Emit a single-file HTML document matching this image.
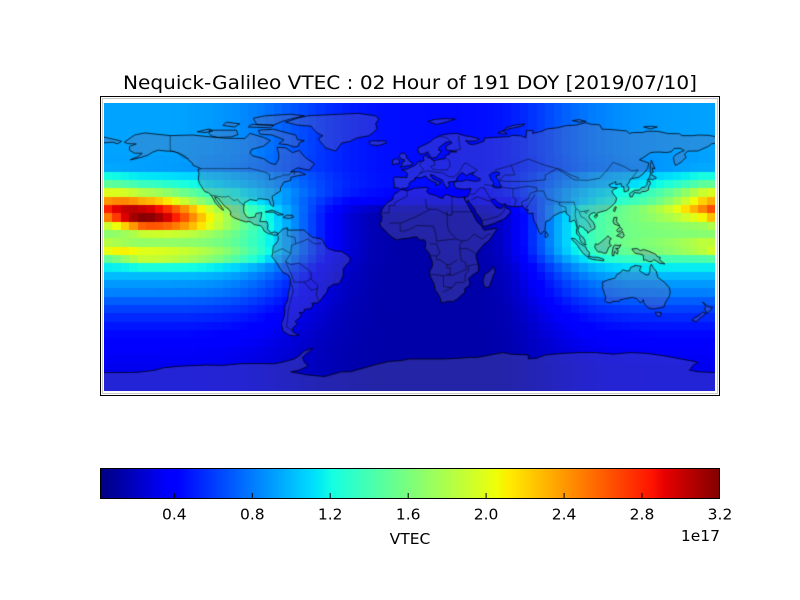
<!DOCTYPE html>
<html><head><meta charset="utf-8"><style>
html,body{margin:0;padding:0;background:#fff}
#w{position:relative;width:800px;height:600px;overflow:hidden;background:#fff}
#cb{position:absolute;left:100px;top:468px;width:620px;height:31px;
background:linear-gradient(to right,rgb(0,0,128) 0%,rgb(0,0,255) 11%,rgb(0,0,255) 12.5%,rgb(0,219,255) 34%,rgb(0,230,247) 35%,rgb(21,255,226) 37.5%,rgb(239,255,8) 64%,rgb(247,245,0) 65%,rgb(255,236,0) 66%,rgb(255,19,0) 89%,rgb(232,0,0) 91%,rgb(128,0,0) 100%)}
svg{position:absolute;left:0;top:0}
canvas{position:absolute;left:104px;top:103px}
text{font-family:"DejaVu Sans","Liberation Sans",sans-serif;fill:#000}
</style></head><body><div id="w">
<div id="cb"></div>
<svg width="800" height="600" viewBox="0 0 800 600">
<rect x="100.5" y="96.5" width="619" height="299" fill="none" stroke="#000" stroke-width="1"/>
<rect x="102.5" y="98.5" width="615" height="295" fill="none" stroke="#c8c8c8" stroke-width="1"/>
<rect x="100.5" y="468.5" width="619" height="30" fill="none" stroke="#000" stroke-width="1"/>
<g stroke="#000" stroke-width="1">
<line x1="174.3" y1="493" x2="174.3" y2="499"/>
<line x1="252.3" y1="493" x2="252.3" y2="499"/>
<line x1="330.2" y1="493" x2="330.2" y2="499"/>
<line x1="408.2" y1="493" x2="408.2" y2="499"/>
<line x1="486.1" y1="493" x2="486.1" y2="499"/>
<line x1="564.1" y1="493" x2="564.1" y2="499"/>
<line x1="642" y1="493" x2="642" y2="499"/>
</g>
<text x="410" y="89" font-size="19" text-anchor="middle" textLength="574" lengthAdjust="spacingAndGlyphs">Nequick-Galileo VTEC : 02 Hour of 191 DOY [2019/07/10]</text>
<g font-size="15.5" text-anchor="middle">
<text x="174.3" y="519.5">0.4</text>
<text x="252.3" y="519.5">0.8</text>
<text x="330.2" y="519.5">1.2</text>
<text x="408.2" y="519.5">1.6</text>
<text x="486.1" y="519.5">2.0</text>
<text x="564.1" y="519.5">2.4</text>
<text x="642" y="519.5">2.8</text>
<text x="720" y="519.5">3.2</text>
<text x="410" y="544">VTEC</text>
</g>
<text x="720" y="541" font-size="15.5" text-anchor="end">1e17</text>
</svg>
<canvas id="m" width="611" height="288"></canvas>
</div>
<script>
(function(){
var c=document.getElementById('m').getContext('2d');
function jet(t){t=Math.max(0,Math.min(1,t));var r,g,b;
r=t<0.35?0:t<0.66?(t-0.35)/0.31:t<0.89?1:1-(t-0.89)/0.11*0.5;
g=t<0.125?0:t<0.375?(t-0.125)/0.25:t<0.64?1:t<0.91?1-(t-0.64)/0.27:0;
b=t<0.11?0.5+t/0.11*0.5:t<0.34?1:t<0.65?1-(t-0.34)/0.31:0;
return 'rgb('+Math.round(r*255)+','+Math.round(g*255)+','+Math.round(b*255)+')';}
var nf=[],Lp=[0.23,0.23,0.23,0.23,0.23,0.23,0.23,0.22,0.21,0.32,0.36,0.48,0.61,0.89,0.96,0.97,0.97,0.97,0.94,0.82,0.67,0.57,0.50,0.45,0.38,0.32,0.27,0.23,0.20,0.17,0.15,0.14,0.13,0.13,0.13,0.13];
for(var k=0;k<36;k++){nf[k]=k<=10?1:k==11?0.9:k==12?0.6:k==13?0.15:0;}
function wrap(a){return ((a+180)%360+360)%360-180;}
function val(i,k){
var lon=-180+5*(i+0.5);
var dp=wrap(lon+160);
var day=dp>=0?Math.exp(-Math.pow(dp/100,4)):Math.exp(-Math.pow(-dp/123,6));
var N=0.12+0.02*Math.cos((lon+160)*Math.PI/180);
var t=0.035+nf[k]*N+0.48*day*Lp[k];
var dc=wrap(lon+157);
var cf=Math.exp(-Math.pow(dc/(dc<0?42:38),2));
var rc=13.9+0.04*Math.max(Math.min(dc,0),-30)+0.01*Math.max(dc,0);
var s=k<rc?2.8:1.6;
t+=0.5*cf*Math.exp(-Math.pow((k-rc)/s,2));
var cs=Math.exp(-Math.pow(dc/(dc<0?40:55),2));
var rs=18.6+0.035*Math.max(Math.min(dc,0),-30);
t+=0.19*cs*Math.exp(-Math.pow((k-rs)/1.0,2));
return t;}
for(var i=0;i<72;i++){var x0=Math.round(i*611/72),x1=Math.round((i+1)*611/72);
for(var k=0;k<36;k++){var y0=Math.max(0,Math.round(2+8.33*(k-1))),y1=Math.min(288,Math.round(2+8.33*k));
if(y1<=y0)continue;c.fillStyle=jet(val(i,k));c.fillRect(x0,y0,x1-x0,y1-y0);}}
function P(lon,lat){return [(lon+180)*611/360,(90-lat)*1.6];}
function poly(a,close){var p=P(a[0],a[1]);c.moveTo(p[0],p[1]);for(var j=2;j<a.length;j+=2){p=P(a[j],a[j+1]);c.lineTo(p[0],p[1]);}if(close)c.closePath();}
var L=[
[-168,65.5,-162,70,-156,71.3,-141,69.6,-128,70,-117,68.8,-108,68,-97,67.8,-94,71,-86,68.5,-82,66.5,-86,63,-93,61,-94,58.7,-92.5,57,-86,55.2,-82.3,52.5,-79,51.5,-77,55,-77,58,-78,62.3,-73,62,-69,59,-65,60.3,-61.5,56,-56,52,-59,48,-66,49.5,-70,47,-65,47,-61,45.3,-66,44.5,-70,43.5,-70,41.6,-74,40.5,-76,37,-76,35,-79,33,-81,31.5,-80,27,-80.2,25.2,-81.8,26.5,-82.8,29.5,-85,29.8,-89,30.3,-90,29,-94,29.6,-97.4,27.5,-97.7,24,-97.5,21.5,-96,19,-94.5,18.2,-91,18.8,-90.4,21,-87,21.5,-87.5,18.5,-88.2,16,-84,15.8,-83.4,14,-83.6,11,-81.5,8.8,-79.5,9.5,-77.4,8.5,-78,7.5,-80.2,7.3,-81,8,-83,8.3,-85.7,10,-86.5,12,-87.7,13.3,-91.5,14,-94,16,-96.5,15.7,-100,16.9,-103.5,18.3,-105.5,20,-105.3,21.8,-106.4,23.5,-109,25.5,-110.7,27.8,-112.8,30.5,-114.7,31.5,-114.2,30,-112,27,-110,24,-109.5,23,-110.3,23.3,-112,24.8,-114.5,27.8,-115.8,30.5,-117.1,32.5,-118.5,34,-120.6,34.6,-121.9,36.6,-122.5,37.8,-123.8,39.8,-124.4,42.5,-124,46.3,-124.7,48.4,-123,49,-125,50,-127.5,51,-128,52.5,-130.4,54.5,-132,56.5,-135.5,58.5,-139.5,59.8,-144,60,-148,60.5,-151.5,59.2,-154,57.5,-158,56,-162,55,-164.5,54.5,-160,56.5,-157.5,58.6,-162,58.6,-165,60.5,-165,62.5,-164.5,63.1,-161,64.4,-166,64.6],
[-73,78,-66,80.5,-60,82,-45,82.8,-30,83.5,-20,82,-18,80,-20,77,-19,74,-22,71,-24,69.5,-31,68.2,-35,66,-40,65,-42,62,-43.5,60,-46,60.8,-49.5,62,-51,64,-53,66.5,-53.5,68,-51,69.5,-54,71,-56,73,-58,75.5,-66,76.2],
[-80,73.6,-71,71,-67,70,-66,67,-62,66.5,-65,65,-65.5,63,-68,62.5,-72,64,-77,64.5,-74,67,-81,70,-88,70.5,-89,73],
[-118,73,-112,73,-102,73,-101,70.3,-105,68.8,-113,68.5,-117,69.5,-118,71],
[-90,76.5,-80,76.2,-75,78.5,-70,80,-62,82,-70,83,-85,82,-92,80.5],
[-125,72,-118,73.8,-116,72.5,-120,71.5],
[-95,75,-82,74.5,-80,76,-93,76.7],
[-110,76,-103,75,-100,77,-108,78],
[-85,21.9,-81,23.1,-76.5,21,-74.2,20.2,-77.5,19.9,-80,21.7],
[-74.5,18.4,-72.5,19.9,-69,19.8,-68.4,18.6,-71,17.8],
[-77.4,8.5,-76,9.5,-75,11,-72,12,-71.5,10.5,-68,10.6,-64,10.6,-62,10.6,-60,8.4,-57,6,-52,5,-51,4,-50,1.6,-48,-1,-44,-2.5,-40,-2.8,-37,-4.8,-35,-7,-35.2,-9,-37,-11,-39,-13.5,-39,-17.5,-40.8,-21.8,-42,-23,-44.7,-23.3,-48,-25.5,-48.6,-28.2,-50.5,-30.5,-52.5,-33.5,-54,-34.8,-57.5,-35.2,-57,-36.5,-58,-38.5,-62,-39,-62.2,-40.8,-65,-41,-63.8,-42.6,-65.4,-44.8,-67.5,-46.5,-66,-48,-68.3,-50.1,-69.1,-52.2,-68.4,-53.3,-65.2,-55,-68,-55.6,-71,-55,-74.5,-52.5,-75.5,-48,-74,-44,-73.5,-41,-73.5,-37.3,-71.7,-33,-71.4,-29,-70.5,-25,-70.2,-20,-71.4,-17.5,-75,-15.5,-77,-12,-79.5,-8,-81.2,-6,-80.5,-3.5,-80.5,-1,-80,1,-78.8,1.8,-77.5,4,-77.3,6.5,-77.9,7.3],
[-17.5,14.7,-16.7,12.5,-15,11,-13.2,9,-11.5,7,-7.5,4.4,-4,5.2,0,5.6,2.5,6.3,4.5,6.3,6,4.3,8.5,4.5,9.6,3.5,9.5,1,9.2,-1,11.8,-4,12.2,-6,13.4,-9,13.5,-12,12,-15,11.8,-17.3,13.5,-21,14.5,-23,15.2,-27,16.5,-28.6,18.2,-32,18.4,-34.2,20,-34.8,22.5,-34,25.7,-34,28,-32.7,30.5,-30.2,32.5,-28.5,32.6,-26,35.3,-24,35.5,-22,34.8,-19.8,36.8,-17.8,40.6,-15.2,40.5,-10.5,39.3,-7,39.2,-4.7,41,-1.8,44,1.8,46.5,3.7,48.7,6.7,51,10.4,51.2,11.8,48.5,11.2,44,10.5,43.2,11.5,42.6,13,40,15.5,38.6,18,37.2,21,35.6,23.9,34.5,26,32.7,29.8,32.3,31.3,29,30.9,25,31.6,22,32.8,20,32,19.8,30.5,18,30.8,15.5,32.2,11.5,33.2,10.2,34.5,11,36.9,9.8,37.3,6,36.9,3,36.8,-1,35.2,-5.3,35.9,-6.5,34.5,-9.5,32.5,-9.8,29.8,-13,27.7,-14.5,26,-16,23.8,-17,21,-16.2,19,-16.5,16.1],
[49.3,-12,50.5,-15.5,49.5,-17.5,48,-22,47,-25,45,-25.5,43.7,-23.5,43.3,-21,44.4,-17,46.3,-15.8,47.8,-14.5],
[-9,37,-8.9,39,-9.5,43,-8,43.7,-1.5,43.4,-1.2,46,-2.5,47.3,-4.7,48.4,-1.5,48.7,1.5,50.2,4,51.5,5,53.3,8.5,53.8,8.2,56.5,10.2,57.6,10.5,56,12.5,55.5,13.2,54.5,14.5,54,18,54.8,21,55.2,21,57,23.5,58,23.5,59.3,28,59.5,24,60.2,21.5,60.8,21.5,63,25,65,24.5,65.8,21.5,65.5,19,63.5,17.5,62.2,17.2,60.5,19,59.8,18.2,59,16.5,57,15.8,56.1,13,55.5,12.5,56.5,11,58.8,10.6,59.5,8.5,58.2,6,58.1,5,60,5,62,8,63.5,12,65.5,14.5,67.8,16,68.5,19,70,23,70.7,28,71,31,70,33,69.4,36,69,41,67.6,39.5,66.3,34.5,66.2,33,66.6,35,64.4,37,64,40,64.6,44,66.2,44,68,46,68.2,53,68.7,58.5,68.9,60.5,69.8,66,69.4,68.5,68.2,69,72.8,73,72.7,72.5,71,76,71.8,78,72.4,81,73.8,87,74.5,92,75.8,98,76.2,104,77.7,107,76.7,112,76.4,113.5,73.6,118,73.5,123,73,128,72.5,129.5,71,132,71.6,137,71.5,140,72.4,146,72.3,150,71.5,152,70.9,159,70.8,160.5,69.6,167,69.6,170,70,176,69.8,181,68.9,181,65,178,64.5,176,62.8,173,61.5,170,60,166,60,164,59.9,162,58,163,56,161.7,54.8,160,53,158,51.7,156.7,51,156,53,155.5,56,156.8,57.7,160,59.5,161.9,60.3,159.5,61.7,156,61.6,154.2,59.5,151,59,148,59.3,145,59.3,142,59,138,56,135.5,54.5,137.5,53.8,141,52.5,140.3,49,138,46,135,43.5,132,43,130,42.3,129.5,40.5,128,38.5,129.3,37.2,129,35.2,126.5,34.4,126.3,36.8,126.2,37.7,125,37.8,124.7,39.6,121.5,39,121.6,40.9,120,40,117.5,38.8,118.9,37.2,122.5,37,120.5,36,119.2,34.8,120.5,32.5,121.8,31,121.9,29.9,121.4,28,119.5,25.8,118,24.5,116,22.9,113.5,22.2,110.8,21.4,110.2,20.1,109,21.6,106.7,20.7,105.7,19,106.5,17.5,108.3,15.5,109.3,13,109.2,11.5,107,10.4,105,8.6,104.8,10,103.5,10.6,102.5,12.2,100.9,12.7,100.2,13.5,99.2,10.3,100.3,8,101,6.9,102.2,6.2,103.4,4,103.5,2,104.2,1.4,103.5,1.3,101.3,2.8,100.4,4.8,100.2,6.4,98.5,8.2,98.3,10,98.7,12,97.7,16,97,16.9,95.3,15.8,94.2,16,94.5,19,92.5,20.8,92,21.6,91.5,22.5,90.3,21.8,88.8,21.6,86.8,20.5,85,19.5,82.2,16.6,80.3,15.9,79.9,12,79.8,10.3,78,8.9,77.5,8,76.5,8.9,75.7,11.3,74.5,14.6,73.4,16,72.8,19.2,72.8,21.2,70.5,20.9,69,22.4,70.2,23,68.4,23.6,67.3,24.8,66.5,25.5,64.5,25.2,61.5,25.1,58.5,25.6,57.3,25.8,56.5,27.1,54.7,26.5,52,27.8,50.2,30,48.5,29.9,48,29.3,48.8,27.7,50.1,26.2,51.5,24.5,54,24.1,56.3,26.2,56.5,24.5,58.7,23.6,59.8,22.3,58.5,20.4,55.5,17.3,52.2,15.9,49.5,14.6,45.6,13.3,43.5,12.7,42.8,15,42.6,16.8,41.2,19,39.2,21.5,38.5,23.6,37.1,25.5,35.3,28,34.6,28.1,34.9,29.5,33.7,27.6,32.4,29.9,32.3,31.3,34.2,31.3,34.9,32.8,35.9,35.4,36.1,36.6,34,36.3,32.5,36.1,30.4,36.3,28,36.6,26.3,38.2,26.5,39.5,26.1,40.6,28.8,41,29.2,41.2,31.1,41.1,33.5,42,36.9,41.3,39.5,41.1,41.5,41.5,41.7,42.7,39.9,43.4,38.3,44.6,36.7,45.2,38.3,46.8,35,45.6,33.6,44.5,32.5,45.5,30.8,46.6,29.6,45.3,28.7,44.3,27.7,42.6,28,41.8,26.3,40.9,24,40.8,22.8,40.5,23.5,38.5,22.7,37.3,21.7,36.8,21.1,38.3,20.2,39.6,19.4,41.8,16,43.5,13.9,44.8,12.3,45.3,12.6,44.1,13.9,42.5,16,41.4,18.5,40.2,16.8,38.9,15.6,38.2,15.9,40,14.1,40.8,12.2,41.7,10.5,42.9,9.6,44.4,8.4,44,6.6,43.1,4,43.5,3.1,43.1,3.2,41.9,0.8,41,-0.3,39.3,0.1,38.7,-0.7,37.6,-2.1,36.7,-4.4,36.7,-5.4,36,-6.4,36.8,-7.4,37.1],
[47,45,49,46.6,51.5,47,53,46.5,53,45,51,44.5,51.3,43,52.8,41.5,53,40,54,38,53.9,37,51,36.8,49,37.6,49.5,40.3,48,42,47.5,43.5],
[-181,68.9,-175,67.5,-171,66.5,-169.7,66,-172,64.5,-175,65.5,-181,65],
[-5.7,50,1.4,51.2,1.7,52.7,0.2,53.5,-1.5,55.5,-2,57.5,-3.1,58.6,-5,58.6,-6.2,56.8,-5,55,-3,54.5,-3,53.4,-4.6,53,-4.2,51.5],
[-10,51.6,-6,52.2,-6,54.2,-7.5,55.3,-10,54.2],
[-24,65.5,-22,66.4,-18,66.2,-14.5,66.4,-13.5,65,-18.5,63.4,-22.5,63.8],
[79.8,6.1,80.2,9.8,81.8,7.5,80.6,5.9],
[130,31.3,131.3,31.4,132.3,33.9,134.7,33.8,135.8,33.5,137,34.6,139,34.7,140.8,35.7,141,37.9,142,39.5,141.5,41.4,140,40.6,139.9,39,138.5,37.4,136.8,37.2,135.5,35.6,133,35.5,131,34.4,129.6,33.3],
[140,41.5,141.7,42.6,143.2,42,145.5,43.3,144.5,44,141.9,45.5,141.2,43.2],
[142,46,143.5,46.5,143,49.5,144.6,48.9,143.2,52.5,142.5,54.3,142,51.5,141.8,48],
[120.1,23,120.8,21.9,121.9,24.9,121.2,25.2],
[108.6,19.2,110.5,20.1,111,19.6,109.6,18.2],
[120.5,18.5,122.2,18.5,122,16,124,13,122,13.8,120.6,14.4,119.9,16],
[122,7,124,8.4,125.5,9.7,126.5,7.3,126,6.3,125,5.6,124,6.4],
[122,10.5,124,12.5,125.5,11,124.5,10,123,9.2],
[109.6,2,111,1.6,113,3.2,115.5,5.5,117,7,117.7,6,119,5.2,118,4.3,117.9,1.8,119,0.9,117.5,0,116.5,-2.5,116,-3.8,114.5,-3.9,113,-3.2,111,-3,110,-1.7,109.1,0],
[95.3,5.5,97.5,5.2,100.5,2.1,103.8,0.1,104.5,-1.8,106,-3.3,105.8,-5.8,104.5,-5.9,102.3,-4,100.5,-1.5,98.7,1.6,96.5,3.7],
[105.2,-6.8,106,-5.9,108.5,-6.4,111,-6.4,114.5,-7.7,114.5,-8.7,111,-8.2,108,-7.8],
[119.5,-5.5,120.4,-5.5,120.8,-2.6,122.5,-4.5,123,-2,121.5,-1,123.3,-0.9,124.6,1.4,123.5,0.9,120.9,1.3,120,0,119.4,-3.5],
[131,-1.2,134,-0.9,136,-2.2,138,-1.6,141,-2.6,145,-4.5,146,-6,147.8,-6.5,147.3,-8,150.5,-10.6,147.5,-10.2,144,-7.8,143,-9,141,-9.1,139,-8,138,-8.4,137.7,-5.1,135.5,-4.4,133,-4,132,-2.8],
[113.5,-22,114.2,-21.8,116.7,-20.6,121,-19.5,122.3,-17,124,-16.3,125.7,-14.2,128,-15,129.6,-14.9,130.3,-12.7,132.6,-12,132.5,-11.5,136.5,-12,136,-13.3,135.5,-14.9,137.1,-15.9,139.3,-17.4,140.8,-17.4,141.7,-15,141.6,-12.9,142.5,-10.7,143.5,-12.8,144.6,-14.3,145.4,-15,146.3,-19,149,-21,150.7,-22.5,153.1,-25.5,153.6,-28.8,153,-31,151.7,-33,150.3,-35.7,150,-37.4,147.5,-38,145,-38.5,143.5,-38.8,140.6,-38,138.5,-35.6,138,-34.5,137.8,-32.9,137.2,-34,135.9,-34.9,135,-33.6,133.8,-32.2,131.3,-31.5,127,-32.3,124,-33,123.6,-33.9,120,-34,118,-35,115.6,-34.3,115,-33.5,115.7,-31.6,115,-29.5,114,-26.3,113.5,-25.5,114,-24.4],
[144.7,-40.7,148.3,-40.9,148,-43,146.9,-43.6,145.3,-42.3],
[172.6,-34.4,174.5,-35.8,175.9,-37.4,178.5,-37.7,177.7,-39.1,176.8,-40,175.2,-41.6,174.7,-39.8,173.8,-39.2,174.6,-37],
[172.7,-40.5,174.3,-41.3,173.2,-43,171.2,-44.4,169.3,-46.6,166.5,-46,166.9,-45,168.4,-44,171,-42.5],
[52,71.5,55,70.7,57.5,70.7,55,72.5,57,74.5,61,76,68,76.9,66,75.5,59,74,56,73],
[96,79,100,79.6,104,78.5,100,78],
[138,75,142,75.5,146,75,142,73.8],
[11,78.5,15,79.8,21,80.2,27,80,22,78.2,16,76.6],
[-181,-78.5,-170,-78.5,-160,-78.3,-150,-77,-145,-75.5,-135,-74.5,-120,-73.8,-110,-74,-100,-73,-90,-72.8,-80,-73,-75,-72,-68,-70,-65,-68,-62,-65,-57,-63.3,-58,-64.5,-61,-67,-63,-69,-62,-72,-60,-74,-61,-75,-65,-77,-70,-78,-60,-80,-50,-81,-40,-78,-35,-78,-28,-76,-20,-73.5,-12,-71.5,-5,-71,0,-70,10,-70,20,-70,30,-69.5,35,-69,40,-69,50,-67,55,-66,60,-67,70,-67.5,70,-70,75,-69.5,80,-67.5,90,-66.5,100,-66,110,-66,120,-67,130,-66,140,-66.5,150,-68,160,-70,165,-71,170,-72,167,-74,165,-77,170,-78,181,-78.5,181,-93,-181,-93]
];
c.beginPath();for(var n=0;n<L.length;n++)poly(L[n],true);
c.fillStyle='rgba(110,110,165,0.33)';c.fill('evenodd');
c.lineWidth=0.8;c.strokeStyle='rgba(0,0,0,0.92)';c.stroke();
var B=[
[-123,49,-95,49,-95,49.4,-89.5,48,-84.5,46.5,-82.5,45.3,-82.5,42,-79,42.8,-79,43.5,-76,44,-74.7,45,-71,45,-69,47.4,-67.8,47,-67.8,45.1],
[-141,69.6,-141,60.3,-137,59,-133,56,-130,55],
[-117.1,32.5,-111,31.3,-108.2,31.3,-106.5,31.8,-104.5,29.6,-103,29,-101.4,29.8,-99.5,27.5,-97.4,25.9],
[-1.7,35,-1.2,32,-8.7,27.7,-8.7,26,-12,26,-12,21.3,-17,21.3],[9.5,30,10,24.5,12,23.5,16,23.5,24,19.5,24,20,25,20,25,31.6],[25,22,36.9,22],[22,22.5,22.5,12,24,9,27.5,5,31,3.7,34,4.2,35.5,5.4,38,8,43,5,46.5,8,48,8],
[-12,15,-5,15,4,19,12,23.5],[-5.5,15,-5.5,10,-3,10,0,11,2,12,4,13.5,14,13,15.5,8,16,3.5,18,4,22.5,4.5,27,5],[12,2,16,2,18,-4,16,-5.5,12.2,-5.5],[16,-5.5,16,-8,18,-8,22,-11,22,-13,24,-13,24,-17.5,20,-18,20,-22,20,-24.7,25,-25.5,27,-22.5,29,-22.2,32,-22],[29.5,-1,30,-4,30.5,-8.5,33,-9.5,33.5,-14,30,-15.5,25,-17.8,22,-16.5],[33.8,-1,37.5,-3,39.3,-4.7],[33.8,-1,30,-1,29.6,1,31,3.7],[28,-8,24,-11,22,-11],[40.6,-10.5,36,-11.5,34.5,-11.5,35,-14.5,33,-17,32.5,-22],[20,-28,25,-25.5],[12,-17.3,15,-17.3,20,-18],
[-73,-9,-70,-11,-65,-10,-60,-14,-58,-16,-58,-20,-54,-24,-55,-30,-53.5,-33.7],[-70,-4,-69.5,1,-67,2,-62,4,-60,5,-56,2,-52,2.3],[-70,-22,-68.5,-27,-70,-33,-71.5,-40,-71.8,-45,-72.5,-50,-68.6,-52.3],[-69.5,-17.5,-68,-22,-62,-22,-58,-20],[-80,-3.5,-75,-1,-70,-4,-73,-9,-69.5,-17.5],[-72,12,-72,7,-67.5,6,-67,2],[-62,-22,-58,-27,-54,-26],
[87,49,97,42,105,41.6,112,43,116,47.5,120,53,127,50,131,47.5,134.7,48.2,131,43],[50,48,60,51,70,55,80,51,87,49,80,45,80,42,70,41,56,41,53,42],[75,35,79,35,81,30,88,28,92,28,97,28,98,24,101,22,106,23],[44,39,48,38.5,54,37.5,61,36.5,61,31,63,29.5,61.5,25.1],[61,36.5,70,38,75,37,75,35,71,33.5,70,30,66,28,66.5,25.5],[74,33,71,28,68.4,23.6],[35.5,33,38,33,42,37.2,44,37,48,29.5],[36.5,29.5,40,31.5,46,29,48,28.5],[42.8,16.5,46,17.3,52,19,55.5,22,56,25],[3,42.5,8,48,8,49,6,51,6.8,53.3],[14.5,54,14.8,51,12.5,50.3,13.8,48.6,16.9,48,22.5,48.3,22.7,49,24,50.8,23.5,53.9,22,55.3],[6,46,10,47.5,13,47.3,16,46.6,20,46.2,23,44,26,43.7,28,45.4,30,48,32,52,33.4,52.5,37,50,40,48,38.3,46.8],[24,60.2,30,61,29,67,29,69.5],[18,69,22,68.4,24,66,24.5,65.8],[100,22,101,19,103,18,105,16,106,14.5,107,12],[98,24,97.5,20,98.5,16,99,12],[88,28,88.5,26,92,25,92.5,21],[100,43,95,45,90,48,87,49],[60,51,62,45,56,45,53,42],[105,22.5,104,21,103,22.5]
];
c.beginPath();for(var n=0;n<B.length;n++)poly(B[n],false);
c.lineWidth=0.6;c.strokeStyle='rgba(0,0,0,0.8)';c.stroke();
})();
</script>
</body></html>
